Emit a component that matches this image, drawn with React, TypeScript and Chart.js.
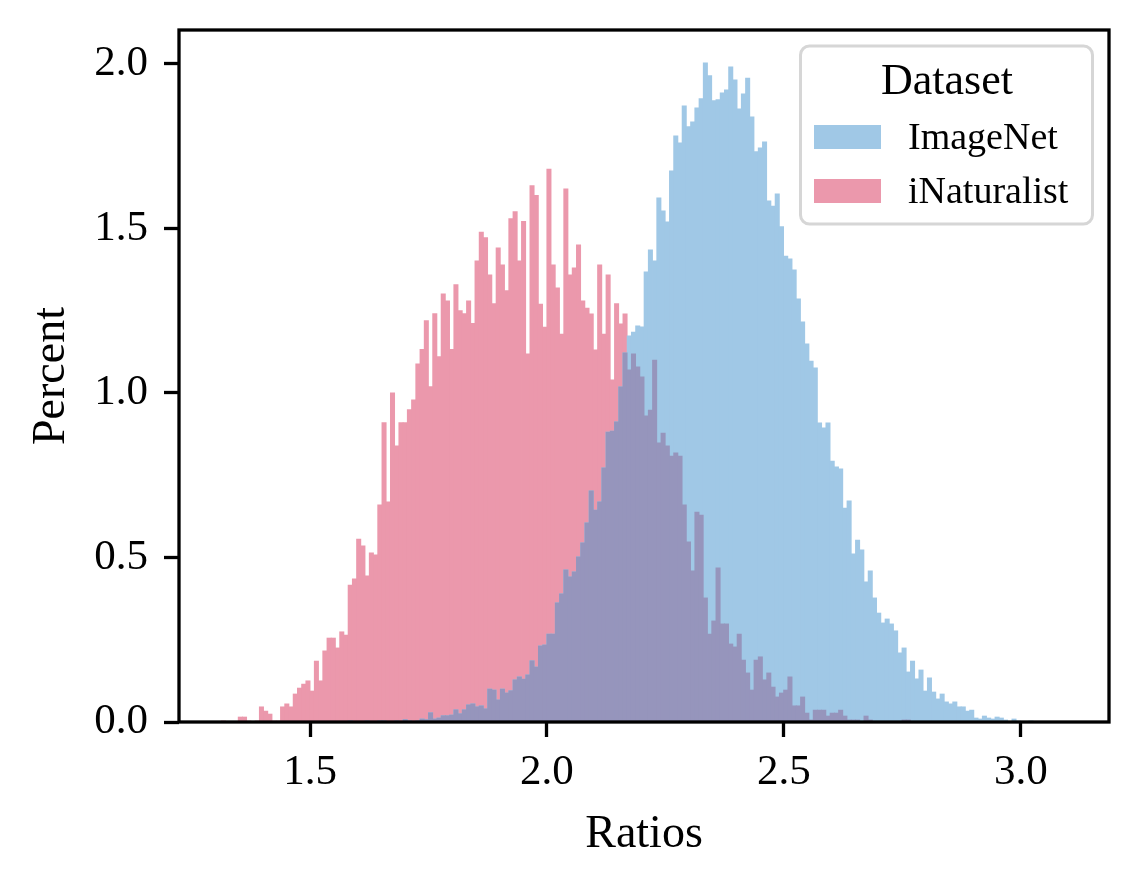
import React, { useEffect, useRef } from "react";
import { Chart, registerables } from "chart.js";

Chart.register(...registerables);

// histogram bins (shared by both datasets)
const binStart = 1.3128;
const binWidth = 0.00892;

// percent per bin, ImageNet starts at bin 30
const imagenetFirstBin = 30;
const imagenetPct = [
  0.003, 0, 0, 0, 0.003, 0, 0, 0.003, 0.003, 0,
  0, 0.003, 0, 0.007, 0.003, 0, 0.003, 0.009, 0.007, 0.028,
  0.009, 0.012, 0.019, 0.019, 0.021, 0.037, 0.025, 0.037, 0.052, 0.055,
  0.046, 0.049, 0.04, 0.1, 0.097, 0.067, 0.1, 0.088, 0.095, 0.128,
  0.137, 0.13, 0.143, 0.186, 0.167, 0.231, 0.234, 0.267, 0.267, 0.362,
  0.389, 0.462, 0.441, 0.456, 0.502, 0.544, 0.605, 0.702, 0.644, 0.669,
  0.772, 0.881, 0.884, 0.912, 1.018, 1.122, 1.173, 1.185, 1.204, 1.201,
  1.368, 1.435, 1.401, 1.593, 1.553, 1.52, 1.675, 1.781, 1.76, 1.872,
  1.809, 1.824, 1.866, 1.894, 2.003, 1.964, 1.888, 1.891, 1.912, 1.921,
  1.991, 1.951, 1.863, 1.909, 1.957, 1.839, 1.733, 1.745, 1.763, 1.584,
  1.568, 1.605, 1.505, 1.416, 1.407, 1.374, 1.286, 1.216, 1.149, 1.097,
  1.076, 0.909, 0.894, 0.909, 0.793, 0.775, 0.769, 0.65, 0.672, 0.511,
  0.553, 0.523, 0.426, 0.459, 0.377, 0.331, 0.301, 0.313, 0.298, 0.277,
  0.21, 0.225, 0.152, 0.185, 0.131, 0.158, 0.094, 0.134, 0.091, 0.07,
  0.085, 0.061, 0.055, 0.061, 0.046, 0.046, 0.033, 0.036, 0.012, 0.009,
  0.018, 0.012, 0.009, 0.015, 0.012, 0.006, 0, 0.009, 0.003, 0,
  0, 0.003,
];

// iNaturalist starts at bin 0
const inaturalistFirstBin = 0;
const inaturalistPct = [
  0.003, 0, 0, 0, 0.015, 0.015, 0.003, 0, 0.003, 0.046,
  0.033, 0.024, 0.003, 0.003, 0.046, 0.055, 0.046, 0.085, 0.103, 0.115,
  0.125, 0.094, 0.185, 0.125, 0.216, 0.255, 0.255, 0.225, 0.274, 0.264,
  0.416, 0.435, 0.556, 0.535, 0.444, 0.514, 0.508, 0.66, 0.91, 0.669,
  1.0, 0.839, 0.91, 0.91, 0.949, 0.979, 1.088, 1.132, 1.22, 1.019,
  1.241, 1.11, 1.301, 1.28, 1.132, 1.329, 1.25, 1.241, 1.28, 1.211,
  1.401, 1.489, 1.472, 1.359, 1.271, 1.441, 1.389, 1.311, 1.53, 1.551,
  1.401, 1.521, 1.119, 1.63, 1.6, 1.27, 1.2, 1.68, 1.389, 1.319,
  1.179, 1.62, 1.359, 1.38, 1.45, 1.28, 1.258, 1.24, 1.131, 1.389,
  1.179, 1.359, 1.04, 1.271, 1.21, 1.24, 1.07, 1.119, 1.079, 1.049,
  0.93, 0.948, 1.1, 0.848, 0.878, 0.839, 0.808, 0.818, 0.808, 0.66,
  0.547, 0.459, 0.638, 0.629, 0.377, 0.267, 0.307, 0.468, 0.298, 0.298,
  0.237, 0.228, 0.267, 0.188, 0.149, 0.097, 0.188, 0.198, 0.128, 0.149,
  0.106, 0.076, 0.088, 0.097, 0.137, 0.049, 0.049, 0.076, 0.027, 0.006,
  0.036, 0.036, 0.036, 0.018, 0.027, 0.027, 0.036, 0.018, 0.006, 0.006,
  0.006, 0, 0.018, 0.006, 0, 0, 0, 0, 0, 0,
  0, 0.006, 0.006,
];

const seriesNames = ["ImageNet", "iNaturalist"];
// half-transparent colours as they look on white, plus the blend where they overlap
const seriesColors = ["#a0c8e6", "#eb98ac"];
const overlapColor = "#9695bc";
const legendTitle = "Dataset";
const xTicks = [1.5, 2.0, 2.5, 3.0];
const yTicks = [0, 0.5, 1.0, 1.5, 2.0];
const xTitle = "Ratios";
const yTitle = "Percent";

const FONT = "'Liberation Serif', 'DejaVu Serif', serif";

const binCenter = (bin: number) => binStart + (bin + 0.5) * binWidth;

const toPoints = (values: number[], firstBin: number) =>
  values.map((v, i) => ({ x: binCenter(firstBin + i), y: v }));

// part of each bin covered by both histograms
const overlapPoints = () => {
  const pts: { x: number; y: number }[] = [];
  imagenetPct.forEach((v, i) => {
    const bin = imagenetFirstBin + i;
    const other = inaturalistPct[bin - inaturalistFirstBin];
    if (other !== undefined) pts.push({ x: binCenter(bin), y: Math.min(v, other) });
  });
  return pts;
};

// matplotlib-like box around the plot
const framePlugin = {
  id: "frame",
  afterDatasetsDraw(chart: any) {
    const { ctx, chartArea } = chart;
    ctx.save();
    ctx.strokeStyle = "#000";
    ctx.lineWidth = 3.3;
    ctx.strokeRect(chartArea.left, chartArea.top, chartArea.right - chartArea.left, chartArea.bottom - chartArea.top);
    ctx.restore();
  },
};

// legend with title and rounded grey frame
const legendPlugin = {
  id: "legendBox",
  afterDraw(chart: any) {
    const ctx = chart.ctx;
    ctx.save();
    ctx.beginPath();
    ctx.roundRect(800.5, 46, 292, 178, 9);
    ctx.fillStyle = "rgba(255,255,255,0.8)";
    ctx.fill();
    ctx.lineWidth = 3;
    ctx.strokeStyle = "#d6d6d6";
    ctx.stroke();

    ctx.fillStyle = "#000";
    ctx.font = `44px ${FONT}`;
    ctx.textAlign = "center";
    ctx.textBaseline = "alphabetic";
    ctx.fillText(legendTitle, 947, 94);

    seriesNames.forEach((name, i) => {
      const top = 125 + i * 54;
      ctx.fillStyle = seriesColors[i];
      ctx.fillRect(814, top, 67, 24);
      ctx.fillStyle = "#000";
      ctx.font = `38px ${FONT}`;
      ctx.textAlign = "left";
      ctx.fillText(name, 908, top + 24);
    });
    ctx.restore();
  },
};

const App: React.FC = () => {
  const chartRef = useRef<HTMLCanvasElement | null>(null);

  useEffect(() => {
    document.body.style.margin = "0";
    if (!chartRef.current) return;

    const tickGrid = {
      display: true,
      offset: false,
      drawOnChartArea: false,
      drawTicks: true,
      tickLength: 15,
      tickWidth: 3.3,
      tickColor: "#000",
    };

    const myChart = new Chart(chartRef.current, {
      type: "bar",
      data: {
        datasets: [
          {
            label: seriesNames[0],
            data: toPoints(imagenetPct, imagenetFirstBin),
            backgroundColor: seriesColors[0],
            order: 0,
          },
          {
            label: seriesNames[1],
            data: toPoints(inaturalistPct, inaturalistFirstBin),
            backgroundColor: seriesColors[1],
            order: 1,
          },
          {
            label: "overlap",
            data: overlapPoints(),
            backgroundColor: overlapColor,
            order: -1,
          },
        ] as any,
      },
      options: {
        responsive: false,
        animation: false,
        devicePixelRatio: 1,
        layout: { padding: { top: 30, right: 29, left: 0, bottom: 0 } },
        datasets: {
          bar: {
            barPercentage: 1,
            categoryPercentage: 1,
            grouped: false,
            borderWidth: 0,
            inflateAmount: 0.4,
          },
        } as any,
        plugins: {
          legend: { display: false },
          tooltip: { enabled: false },
        },
        scales: {
          x: {
            type: "linear",
            min: 1.2236,
            max: 3.1857,
            offset: false,
            grid: tickGrid,
            border: { display: false },
            afterBuildTicks: (s: any) => {
              s.ticks = xTicks.map((v) => ({ value: v }));
            },
            afterFit: (s: any) => {
              s.height = 166;
              s.paddingLeft = 0;
              s.paddingRight = 0;
            },
            ticks: {
              color: "#000",
              padding: 10,
              maxRotation: 0,
              font: { family: FONT, size: 43 },
              callback: (v: any) => Number(v).toFixed(1),
            },
            title: {
              display: true,
              text: xTitle,
              color: "#000",
              font: { family: FONT, size: 46 },
              padding: { top: 0, bottom: 25 },
            },
          },
          y: {
            type: "linear",
            min: 0,
            max: 2.103,
            grid: tickGrid,
            border: { display: false },
            afterBuildTicks: (s: any) => {
              s.ticks = yTicks.map((v) => ({ value: v }));
            },
            afterFit: (s: any) => {
              s.width = 179;
              s.paddingTop = 0;
              s.paddingBottom = 0;
            },
            ticks: {
              color: "#000",
              padding: 16,
              font: { family: FONT, size: 43 },
              callback: (v: any) => Number(v).toFixed(1),
            },
            title: {
              display: true,
              text: yTitle,
              color: "#000",
              font: { family: FONT, size: 46 },
              padding: { top: 24, bottom: 0 },
            },
          },
        },
      },
      plugins: [framePlugin, legendPlugin],
    });

    return () => {
      myChart.destroy();
    };
  }, []);

  return (
    <div style={{ width: 1138, height: 888, background: "#fff" }}>
      <canvas ref={chartRef} width={1138} height={888} style={{ display: "block" }} />
    </div>
  );
};

export default App;
